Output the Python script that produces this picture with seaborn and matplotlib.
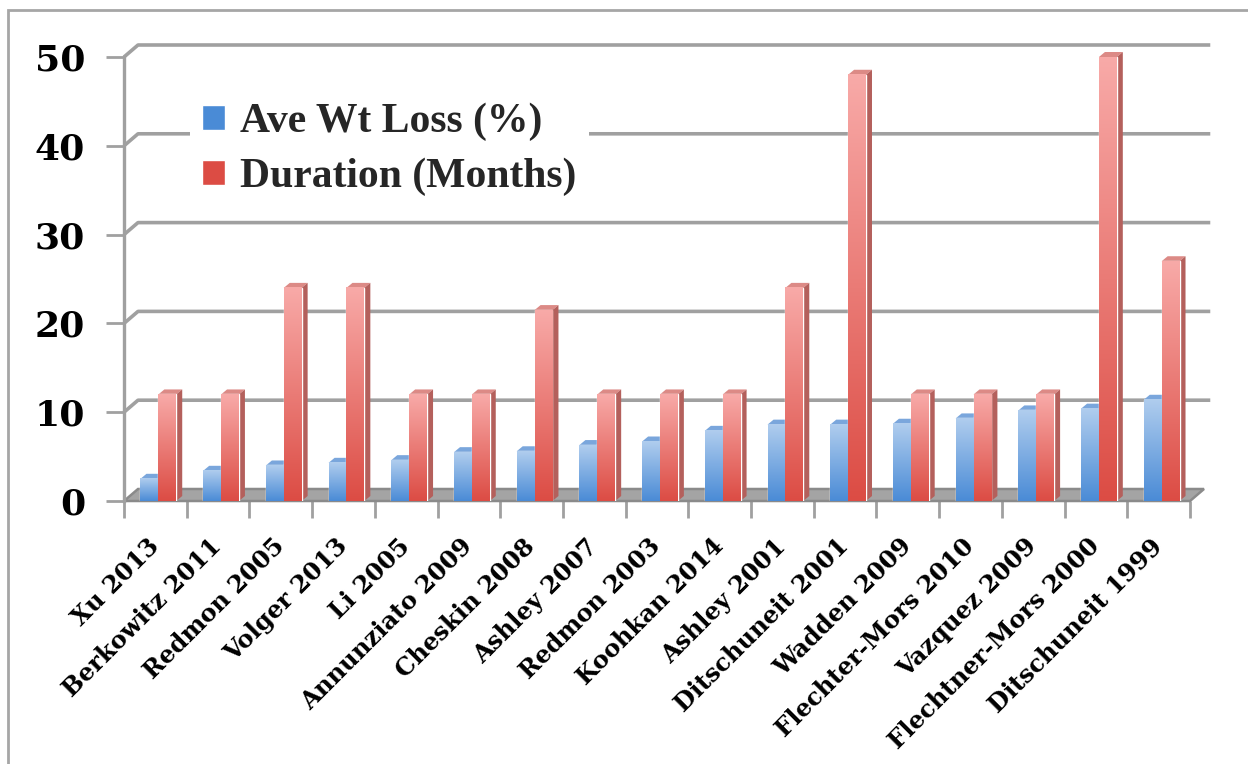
import numpy as np
import pandas as pd
import matplotlib
matplotlib.use("Agg")
import matplotlib.pyplot as plt
import seaborn as sns
from matplotlib.patches import Polygon, Rectangle, Patch
from matplotlib.colors import LinearSegmentedColormap

# === Data ===
studies = ["Xu 2013", "Berkowitz 2011", "Redmon 2005", "Volger 2013", "Li 2005",
           "Annunziato 2009", "Cheskin 2008", "Ashley 2007", "Redmon 2003",
           "Koohkan 2014", "Ashley 2001", "Ditschuneit 2001", "Wadden 2009",
           "Flechter-Mors 2010", "Vazquez 2009", "Flechtner-Mors 2000",
           "Ditschuneit 1999"]
wt_loss = [2.5, 3.4, 4.0, 4.3, 4.6, 5.5, 5.6, 6.3, 6.7, 7.9, 8.6, 8.6, 8.7,
           9.3, 10.2, 10.4, 11.4]
duration = [12, 12, 24, 24, 12, 12, 21.5, 12, 12, 12, 24, 48, 12, 12, 12, 50, 27]
series = ["Ave Wt Loss (%)", "Duration (Months)"]
y_ticks = [0, 10, 20, 30, 40, 50]

df = pd.DataFrame({
    "study": studies * 2,
    "value": wt_loss + duration,
    "series": [series[0]] * len(studies) + [series[1]] * len(studies),
})

# colours: (bottom/dark, top/light, top face, side face)
blue = ("#4a8bd6", "#b0cdee", "#7aa6dc", "#3f74b3")
red = ("#dc4c44", "#f8aaa8", "#dc8a86", "#b4605c")
grid_col = "#a0a0a0"

sns.set_theme(style="white")
plt.rcParams["font.family"] = ["DejaVu Serif"]
plt.rcParams["font.weight"] = "bold"

W, H = 1248, 764
fig = plt.figure(figsize=(W / 100, H / 100), dpi=100)
left_px, right_px, bottom_px, top_px = 124, 1190, 501, 57
ax = fig.add_axes([left_px / W, 1 - bottom_px / H,
                   (right_px - left_px) / W, (bottom_px - top_px) / H])

sns.barplot(data=df, x="study", y="value", hue="series", palette=[blue[0], red[0]],
            width=0.57, saturation=1, legend=False, ax=ax, zorder=3)

n = len(studies)
xmin, xmax = -0.5, n - 0.5
ax.set_xlim(xmin, xmax)
ax.set_ylim(0, 50)

# pixel -> data conversion for the fake 3D depth
px_x = (right_px - left_px) / (xmax - xmin)
px_y = (bottom_px - top_px) / 50
dx, dy = 14 / px_x, 12 / px_y          # wall depth
bdx, bdy = 6 / px_x, 5 / px_y          # bar depth

# back gridlines with slanted left wall segment
for v in y_ticks[1:]:
    ax.plot([xmin, xmin + dx, xmax + dx + 0.1], [v, v + dy, v + dy],
            color=grid_col, lw=2.6, zorder=1, clip_on=False, solid_capstyle="butt")

# floor
floor = Polygon([(xmin, 0), (xmax, 0), (xmax + dx, dy), (xmin + dx, dy)],
                closed=True, facecolor="#a4a4a4", edgecolor="#8a8a8a", lw=1.8,
                zorder=1.5, clip_on=False)
ax.add_patch(floor)

# gradient + 3D faces on bars
grad = np.linspace(0, 1, 256).reshape(-1, 1)
bars = [p for p in ax.patches if isinstance(p, Rectangle) and p is not floor]
for i, p in enumerate(bars):
    cols = blue if i < n else red
    p.set_x(p.get_x() + bdx / 2)
    x0, w, h = p.get_x(), p.get_width(), p.get_height()
    x1 = x0 + w
    cmap = LinearSegmentedColormap.from_list("g", [cols[0], cols[1]])
    ax.imshow(grad, extent=[x0, x1, 0, h], origin="lower", aspect="auto",
              cmap=cmap, zorder=3.1)
    top = Polygon([(x0, h), (x0 + bdx, h + bdy), (x1 + bdx, h + bdy), (x1, h)],
                  closed=True, facecolor=cols[2], edgecolor="none", zorder=2.9,
                  clip_on=False)
    side = Polygon([(x1, 0), (x1 + bdx, bdy), (x1 + bdx, h + bdy), (x1, h)],
                   closed=True, facecolor=cols[3], edgecolor="none", zorder=2.9,
                   clip_on=False)
    ax.add_patch(top)
    ax.add_patch(side)

ax.set_xlim(xmin, xmax)
ax.set_ylim(0, 50)

# axes styling
for s in ["top", "right", "bottom"]:
    ax.spines[s].set_visible(False)
ax.spines["left"].set_color(grid_col)
ax.spines["left"].set_linewidth(2.4)
ax.set_xlabel("")
ax.set_ylabel("")

ax.set_yticks(y_ticks)
ax.set_yticklabels([str(v) for v in y_ticks])
ax.tick_params(axis="y", length=13, width=2, color=grid_col, pad=15,
               labelsize=26, labelcolor="black", left=True)

ax.set_xticks(range(n))
ax.set_xticklabels(studies)
ax.set_xticks(np.arange(xmin, xmax + 0.01, 1), minor=True)
ax.tick_params(axis="x", which="major", length=0, pad=30, labelsize=17.5,
               labelcolor="black")
ax.tick_params(axis="x", which="minor", length=12, width=2, color=grid_col,
               bottom=True)
for lbl in ax.get_xticklabels():
    lbl.set_rotation(45)
    lbl.set_ha("right")
    lbl.set_va("center")
    lbl.set_rotation_mode("anchor")

# legend
handles = [Patch(facecolor=blue[0]), Patch(facecolor=red[0])]
leg = ax.legend(handles, series, loc="upper left",
                bbox_to_anchor=(190 / W, 1 - 90 / H), bbox_transform=fig.transFigure,
                frameon=True, facecolor="white", edgecolor="none", framealpha=1,
                handlelength=0.55, handleheight=0.55, handletextpad=0.35,
                labelspacing=0.4, borderpad=0.3, borderaxespad=0,
                prop={"family": "Liberation Serif", "weight": "bold", "size": 30})
leg.set_zorder(5)

# outer chart frame
fig.add_artist(Rectangle((8 / W, -0.1), 1.2, 1.1 - 10 / H, transform=fig.transFigure,
                         fill=False, edgecolor="#a6a6a6", lw=2))

fig.savefig("out.png", dpi=100)
